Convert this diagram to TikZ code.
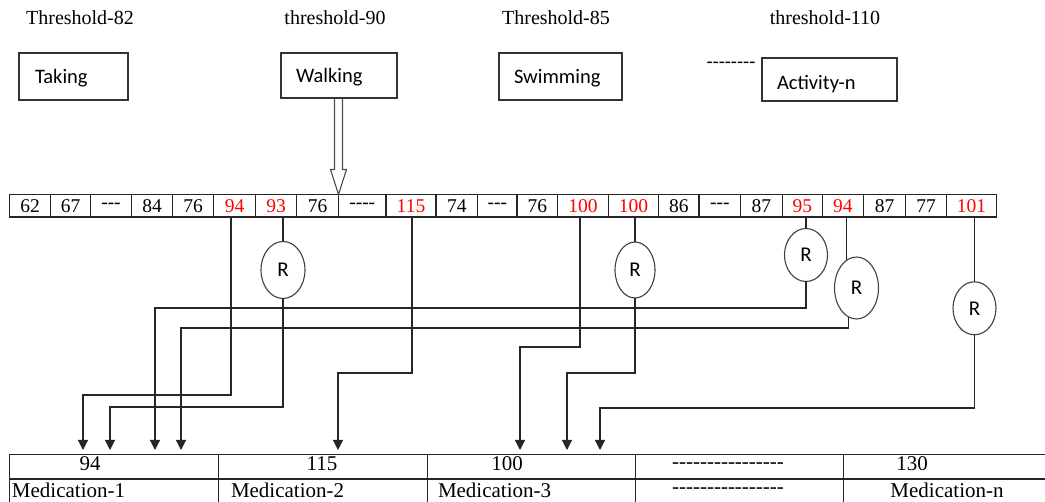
\documentclass[tikz,border=0pt]{standalone}
\usepackage{fontspec}
\setmainfont{Liberation Serif}
\newfontfamily\calfont{Carlito}
\usetikzlibrary{arrows.meta,shapes.geometric}
\newcommand\hy{\hbox{-}}
\newcommand\hyeight{\hy\hy\hy\hy\hy\hy\hy\hy}
\newcommand\lowr[2]{\raisebox{-#1}[\height][\depth]{#2}}
\begin{document}
\begin{tikzpicture}[x=1pt,y=-1pt,
  every node/.style={inner sep=0pt, outer sep=0pt},
  thr/.style={font=\fontsize{20}{24}\selectfont},
  actbox/.style={draw=black!80, line width=1.1pt, align=left, inner ysep=0pt, font=\calfont\fontsize{20.5}{24}\selectfont},
  cell/.style={draw=black!85, line width=1.1pt, minimum height=22.5pt, font=\fontsize{19.5}{22}\selectfont},
  rnode/.style={ellipse, draw=black!75, line width=1.1pt, font=\calfont\fontsize{21}{24}\selectfont},
  conn/.style={draw=black!85, line width=1.2pt},
  arr/.style={conn, -{Triangle[length=10pt,width=10pt]}},
  tcell/.style={draw=black!85, line width=1.1pt},
  ttext/.style={font=\fontsize{21}{25}\selectfont},
]
\fill[white] (0,0) rectangle (1045,502);
\useasboundingbox (0,0) rectangle (1045,502);

% thresholds
\node[thr] (th1) at (80,18) {Threshold-82};
\node[thr] (th2) at (335,18) {threshold-90};
\node[thr] (th3) at (556,18) {Threshold-85};
\node[thr] (th4) at (825,18) {threshold-110};

% activity boxes
\node[actbox, minimum width=109pt, minimum height=47pt, inner xsep=16pt, text width=77pt] (taking) at (73.5,76.5) {\lowr{2pt}{Taking}};
\node[actbox, minimum width=116pt, minimum height=45pt, inner xsep=15pt, text width=86pt] (walking) at (339,75.5) {\lowr{2pt}{Walking}};
\node[actbox, minimum width=123pt, minimum height=47pt, inner xsep=15pt, text width=93pt] (swimming) at (560.5,76.5) {\lowr{2pt}{Swimming}};
\node[actbox, minimum width=135pt, minimum height=43pt, inner xsep=15pt, text width=105pt] (activity) at (829.5,79.5) {\lowr{4.5pt}{Activity-n}};
\node[font=\calfont\fontsize{20}{24}\selectfont] (dsh) at (731,65) {\hyeight};

% cells
\foreach \l/\r/\t/\c [count=\i] in {9.5/50.5/62/black, 50.5/90.5/67/black, 90.5/131.5/\hy\hy\hy/black, 131.5/172.5/84/black, 172.5/213.5/76/black, 213.5/255.5/94/red, 255.5/296.5/93/red, 296.5/338.5/76/black, 338.5/386/\hy\hy\hy\hy/black, 386/436/115/red, 436/477.5/74/black, 477.5/517/\hy\hy\hy/black, 517/557.5/76/black, 557.5/608.3/100/red, 608.3/658.5/100/red, 658.5/699/86/black, 699/740.5/\hy\hy\hy/black, 740.5/782.3/87/black, 782.3/822.3/95/red, 822.3/863.3/94/red, 863.3/905.7/87/black, 905.7/946.7/77/black, 946.7/996.5/101/red}
{\pgfmathsetmacro\w{\r-\l}\pgfmathsetmacro\xc{(\l+\r)/2}
 \node[cell, text=\c, minimum width=\w pt] (c\i) at (\xc,205.75) {\t};}

% hollow arrow from Walking
\coordinate (tp) at (c8.north east);
\coordinate (ht) at (walking.south -| tp);
\draw[line width=1.1pt, draw=black!70] ([xshift=-4pt]ht) -- ([xshift=-4pt,yshift=25pt]tp) -- ([xshift=-8pt,yshift=25pt]tp) -- (tp) -- ([xshift=8pt,yshift=25pt]tp) -- ([xshift=4pt,yshift=25pt]tp) -- ([xshift=4pt]ht);

% R nodes
\node[rnode, minimum width=44pt, minimum height=57pt] (R1) at (283,270) {R};
\node[rnode, minimum width=40pt, minimum height=56pt] (R2) at (635,270) {R};
\node[rnode, minimum width=43pt, minimum height=53pt] (R3) at (806,255) {R};
\node[rnode, minimum width=44pt, minimum height=62pt] (R4) at (856.5,288) {R};
\node[rnode, minimum width=43pt, minimum height=53pt] (R5) at (974.5,308.3) {R};

% table
\foreach \l/\r [count=\i] in {9.5/218.5, 218.5/427.5, 427.5/635.5, 635.5/843.5, 843.5/1052}{
 \pgfmathsetmacro\w{\r-\l}\pgfmathsetmacro\xc{(\l+\r)/2}
 \node[tcell, minimum width=\w pt, minimum height=24.3pt] (t\i) at (\xc,466.85) {};
 \node[tcell, minimum width=\w pt, minimum height=24.5pt] (m\i) at (\xc,491.25) {};
}
\node[ttext] (v1) at (90,464) {94};
\node[ttext] (v2) at (322,464) {115};
\node[ttext] (v3) at (507,464) {100};
\node[ttext] (v4) at (728,466) {\hyeight\hyeight};
\node[ttext] (v5) at (912,464) {130};
\node[ttext, anchor=west] (n1) at (12,490) {Medication-1};
\node[ttext, anchor=west] (n2) at (231,490) {Medication-2};
\node[ttext, anchor=west] (n3) at (438,490) {Medication-3};
\node[ttext] (n4) at (728,491) {\hyeight\hyeight};
\node[ttext] (n5) at (947,490) {Medication-n};

% arrow targets
\coordinate (a1) at (83,450);
\coordinate (a2) at (110,450);
\coordinate (a3) at (155,450);
\coordinate (a4) at (181,450);
\coordinate (a5) at (338,450);
\coordinate (a6) at (520,450);
\coordinate (a7) at (567,450);
\coordinate (a8) at (600,450);

% connectors
\draw[arr] ([xshift=-3.5pt]c6.south) |- ([yshift=55pt]a1) -- (a1);
\draw[conn] (c7.south -| R1.north) -- (R1.north);
\draw[arr] (R1.south) |- ([yshift=43pt]a2) -- (a2);
\draw[arr] ([xshift=1pt]c10.south) |- ([yshift=77pt]a5) -- (a5);
\draw[arr] ([xshift=-3pt]c14.south) |- ([yshift=103pt]a6) -- (a6);
\draw[conn] (c15.south -| R2.north) -- (R2.north);
\draw[arr] (R2.south) |- ([yshift=77pt]a7) -- (a7);
\draw[conn] (c19.south -| R3.north) -- (R3.north);
\draw[arr] (R3.south) |- ([yshift=142pt]a3) -- (a3);
\draw[conn] (c20.south -| R4.110) -- (R4.110);
\draw[arr] (R4.255) |- ([yshift=122pt]a4) -- (a4);
\draw[conn] (c23.south -| R5.north) -- (R5.north);
\draw[arr] (R5.south) |- ([yshift=42pt]a8) -- (a8);
\end{tikzpicture}
\end{document}
